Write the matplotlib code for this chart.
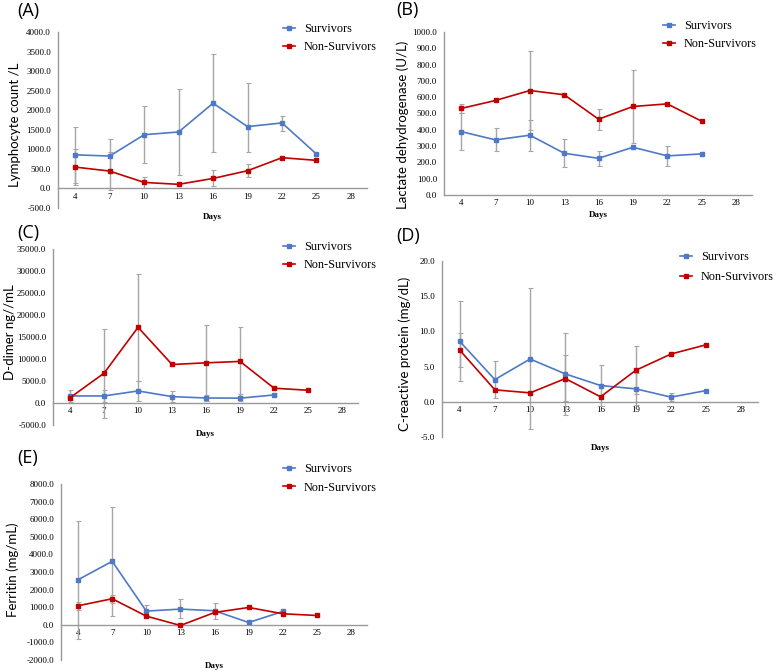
import numpy as np
import matplotlib
matplotlib.use("Agg")
import matplotlib.pyplot as plt
from matplotlib.lines import Line2D

nan = np.nan
days = [4, 7, 10, 13, 16, 19, 22, 25]
xticks = [4, 7, 10, 13, 16, 19, 22, 25, 28]

# (A) Lymphocyte count
lym_s = [860, 828, 1374, 1444, 2180, 1581, 1675, 880]
lym_s_lo = [140, 392, 641, 355, 923, 940, 1479, nan]
lym_s_hi = [1580, 1264, 2111, 2538, 3436, 2684, 1863, nan]
lym_ns = [546, 444, 154, 105, 256, 453, 786, 718]
lym_ns_lo = [91, -36, 20, nan, 60, 300, nan, nan]
lym_ns_hi = [1001, 924, 282, nan, 462, 615, nan, nan]

# (B) LDH
ldh_s = [389, 338, 367, 256, 225, 293, 240, 252]
ldh_s_lo = [277, 270, 272, 170, 178, nan, 178, nan]
ldh_s_hi = [501, 408, 462, 345, 272, nan, 303, nan]
ldh_ns = [531, 580, 641, 615, 465, 543, 559, 453]
ldh_ns_lo = [502, nan, 397, nan, 400, 318, nan, nan]
ldh_ns_hi = [561, nan, 885, nan, 529, 764, nan, nan]

# (C) D-dimer
dd_s = [1600, 1600, 2740, 1450, 1140, 1100, 1830, nan]
dd_s_lo = [150, 230, 380, 230, 500, 400, 1500, nan]
dd_s_hi = [3050, 2890, 5100, 2820, 1750, 2000, 2200, nan]
dd_ns = [1200, 6770, 17200, 8750, 9130, 9450, 3360, 2900]
dd_ns_lo = [700, -3400, 5100, nan, 520, 1690, nan, nan]
dd_ns_hi = [1700, 16800, 29300, nan, 17740, 17210, nan, nan]

# (D) CRP
crp_s = [8.6, 3.16, 6.08, 3.96, 2.31, 1.84, 0.66, 1.60]
crp_s_lo = [2.9, 0.5, -3.9, -1.9, -0.6, -0.4, 0.1, nan]
crp_s_hi = [14.3, 5.85, 16.2, 9.8, 5.2, 4.1, 1.25, nan]
crp_ns = [7.36, 1.70, 1.27, 3.30, 0.71, 4.48, 6.79, 8.11]
crp_ns_lo = [5.0, nan, nan, 0.1, nan, 1.1, nan, nan]
crp_ns_hi = [9.8, nan, nan, 6.7, nan, 7.9, nan, nan]

# (E) Ferritin
fer_s = [2560, 3606, 778, 892, 797, 131, 757, nan]
fer_s_lo = [-816, 512, 450, 380, 341, nan, nan, nan]
fer_s_hi = [5922, 6700, 1110, 1461, 1235, nan, nan, nan]
fer_ns = [1082, 1480, 493, -38, 700, 985, 626, 529]
fer_ns_lo = [850, 1250, nan, nan, nan, nan, nan, nan]
fer_ns_hi = [1320, 1710, nan, nan, nan, nan, nan, nan]

BLUE = "#4f79c6"
RED = "#c00000"
GREY = "#a6a6a6"
W, H = 776, 672

fig = plt.figure(figsize=(W / 100, H / 100), dpi=100)


def add_ax(left, right, top, bottom):
    return fig.add_axes([left / W, 1 - bottom / H, (right - left) / W, (bottom - top) / H])


def draw_err(ax, y, lo, hi):
    y = np.array(y, float)
    lo = np.array(lo, float)
    hi = np.array(hi, float)
    m = ~np.isnan(lo)
    x = np.array(days)[m]
    ax.errorbar(x, y[m], yerr=[y[m] - lo[m], hi[m] - y[m]], fmt="none",
                ecolor=GREY, elinewidth=1, capsize=1.8, capthick=0.8, zorder=2)


panels = [
    dict(box=(58, 367, 32, 208), ylim=(-500, 4000), step=500, ylabel="Lymphocyte count /L",
         s=(lym_s, lym_s_lo, lym_s_hi), ns=(lym_ns, lym_ns_lo, lym_ns_hi),
         label="(A)", lab_xy=(17, 2), leg=(283, 23), ylc=(-0.14, 0.47), days_y=-0.03, lsp=0.52),
    dict(box=(444, 752, 32, 195), ylim=(0, 1000), step=100, ylabel="Lactate dehydrogenase (U/L)",
         s=(ldh_s, ldh_s_lo, ldh_s_hi), ns=(ldh_ns, ldh_ns_lo, ldh_ns_hi),
         label="(B)", lab_xy=(396, 1), leg=(663, 20), ylc=(-0.133, 0.43), days_y=-0.1, lsp=0.52),
    dict(box=(53, 358, 249, 425), ylim=(-5000, 35000), step=5000, ylabel="D-dimer ng//mL",
         s=(dd_s, dd_s_lo, dd_s_hi), ns=(dd_ns, dd_ns_lo, dd_ns_hi),
         label="(C)", lab_xy=(17, 224), leg=(283, 241), ylc=(-0.14, 0.53), days_y=-0.03, lsp=0.52),
    dict(box=(442, 758, 261, 437), ylim=(-5, 20), step=5, ylabel="C-reactive protein (mg/dL)",
         s=(crp_s, crp_s_lo, crp_s_hi), ns=(crp_ns, crp_ns_lo, crp_ns_hi),
         label="(D)", lab_xy=(396, 227), leg=(680, 251), ylc=(-0.117, 0.47), days_y=-0.04, lsp=0.68),
    dict(box=(61, 367, 484, 660), ylim=(-2000, 8000), step=1000, ylabel="Ferritin (mg/mL)",
         s=(fer_s, fer_s_lo, fer_s_hi), ns=(fer_ns, fer_ns_lo, fer_ns_hi),
         label="(E)", lab_xy=(17, 449), leg=(283, 463), ylc=(-0.157, 0.51), days_y=-0.012, lsp=0.55),
]

for p in panels:
    ax = add_ax(*p["box"])
    for side in ["top", "right"]:
        ax.spines[side].set_visible(False)
    ax.spines["bottom"].set_position(("data", 0))
    for side in ["left", "bottom"]:
        ax.spines[side].set_color("#999999")
        ax.spines[side].set_linewidth(1)
    ax.patch.set_visible(False)

    lo, hi = p["ylim"]
    ax.set_xlim(2.5, 29.4)
    ax.set_ylim(lo, hi)
    yt = np.arange(lo, hi + p["step"] / 2, p["step"])
    ax.set_yticks(yt)
    ax.set_yticklabels(["%.1f" % v for v in yt], family="Liberation Serif", fontsize=6.5)
    ax.set_xticks(xticks)
    ax.set_xticklabels([str(d) for d in xticks], family="Liberation Serif", fontsize=6.5)
    ax.tick_params(axis="both", length=0)
    ax.tick_params(axis="y", pad=5)
    ax.tick_params(axis="x", pad=3)

    sy, slo, shi = p["s"]
    ny, nlo, nhi = p["ns"]
    draw_err(ax, sy, slo, shi)
    draw_err(ax, ny, nlo, nhi)
    ax.plot(days, sy, color=BLUE, lw=1.2, marker="s", ms=3.2, zorder=3)
    ax.plot(days, ny, color=RED, lw=1.2, marker="s", ms=3.2, zorder=3)

    ax.set_ylabel(p["ylabel"], family="Lato", fontsize=9.5)
    ax.yaxis.set_label_coords(*p["ylc"])
    ax.yaxis.label.set_verticalalignment("center")
    ax.text(0.5, p["days_y"], "Days", transform=ax.transAxes, ha="center", va="top",
            family="Liberation Serif", fontsize=6.5, fontweight="bold")

    fig.text(p["lab_xy"][0] / W, 1 - p["lab_xy"][1] / H, p["label"], family="Open Sans",
             fontsize=13, ha="left", va="top")

    handles = [Line2D([], [], color=BLUE, lw=1.2, marker="s", ms=3.5),
               Line2D([], [], color=RED, lw=1.2, marker="s", ms=3.5)]
    lx, ly = p["leg"]
    fig.legend(handles, ["Survivors", "Non-Survivors"], loc="upper left",
               bbox_to_anchor=(lx / W, 1 - ly / H), frameon=False, borderpad=0,
               borderaxespad=0, handlelength=1.0, handletextpad=0.7, labelspacing=p["lsp"],
               prop={"family": "Liberation Serif", "size": 8.8})

fig.savefig("out.png", dpi=100)
